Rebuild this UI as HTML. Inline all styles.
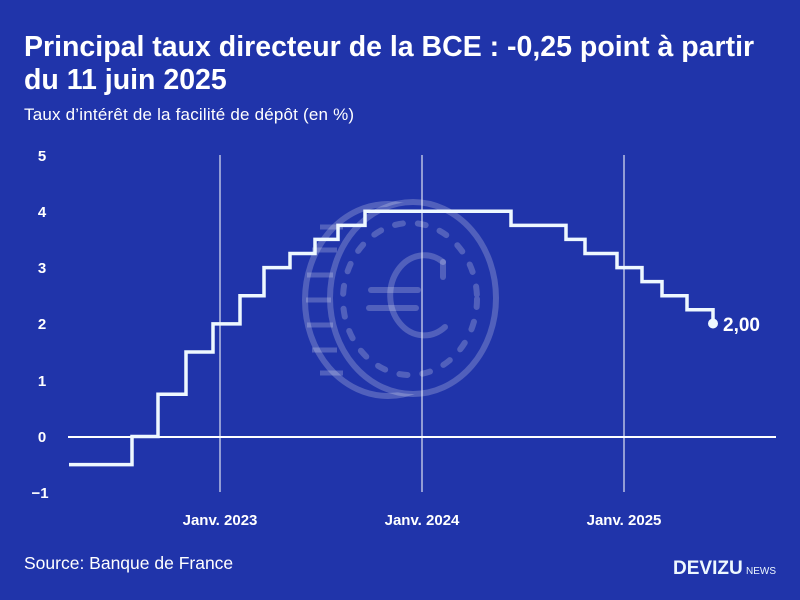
<!DOCTYPE html>
<html><head><meta charset="utf-8"><style>
body{margin:0;width:800px;height:600px;background:#2034aa;overflow:hidden;font-family:"Liberation Sans",sans-serif;color:#fff}
</style></head><body>
<svg width="800" height="600" xmlns="http://www.w3.org/2000/svg" style="position:absolute;left:0;top:0">
<text x="24" y="56" font-size="28.5" font-weight="bold" fill="#fff">Principal taux directeur de la BCE : -0,25 point à partir</text>
<text x="24" y="89" font-size="28.5" font-weight="bold" fill="#fff">du 11 juin 2025</text>
<text x="24" y="120" font-size="17" fill="#fff" letter-spacing="0.2">Taux d’intérêt de la facilité de dépôt (en %)</text>
<g font-size="15" font-weight="bold" fill="#fff" text-anchor="middle">
<text x="42" y="161">5</text><text x="42" y="217">4</text><text x="42" y="273">3</text><text x="42" y="329">2</text><text x="42" y="386">1</text><text x="42" y="442">0</text><text x="40" y="498">−1</text>
<text x="220" y="525">Janv. 2023</text><text x="422" y="525">Janv. 2024</text><text x="624" y="525">Janv. 2025</text>
</g>
<g fill="none" stroke="#fff" stroke-opacity="0.22" stroke-width="6">
<ellipse cx="388" cy="300" rx="83" ry="96"/>
<ellipse cx="413" cy="298" rx="83" ry="96" fill="#2034aa"/>
<ellipse cx="410" cy="299" rx="67" ry="76" stroke-dasharray="8 15" stroke-linecap="round"/>
<path d="M443 262 A34 40 0 1 0 445 327" stroke-linecap="round"/>
<line x1="443" y1="262" x2="443" y2="277" stroke-linecap="round"/>
<line x1="371" y1="290" x2="418" y2="290" stroke-linecap="round"/><line x1="369" y1="308" x2="416" y2="308" stroke-linecap="round"/>
</g>
<g stroke="#fff" stroke-opacity="0.22" stroke-width="5">
<line x1="306" y1="300" x2="331" y2="300"/><line x1="307" y1="275" x2="333" y2="275"/><line x1="307" y1="325" x2="333" y2="325"/>
<line x1="312" y1="250" x2="337" y2="250"/><line x1="312" y1="350" x2="337" y2="350"/><line x1="320" y1="227" x2="343" y2="227"/><line x1="320" y1="373" x2="343" y2="373"/>
</g>
<g stroke="#fff" stroke-opacity="0.85" stroke-width="1.2">
<line x1="220" y1="155" x2="220" y2="492"/><line x1="422" y1="155" x2="422" y2="492"/><line x1="624" y1="155" x2="624" y2="492"/>
</g>
<line x1="68" y1="437" x2="776" y2="437" stroke="#fff" stroke-width="2"/>
<polyline fill="none" stroke="#eef8ff" stroke-width="3.5" points="69,464.6 132,464.6 132,436.5 158,436.5 158,394.3 186,394.3 186,352 213,352 213,323.9 240,323.9 240,295.7 264,295.7 264,267.6 290,267.6 290,253.5 315,253.5 315,239.4 338,239.4 338,225.4 365,225.4 365,211.3 511,211.3 511,225.4 566,225.4 566,239.4 585,239.4 585,253.5 617,253.5 617,267.6 642,267.6 642,281.6 662,281.6 662,295.7 687,295.7 687,309.8 713,309.8 713,323.9"/>
<circle cx="713" cy="323.5" r="5" fill="#eef8ff"/>
<text x="723" y="331" font-size="19" font-weight="bold" fill="#fff">2,00</text>
<text x="24" y="569" font-size="17.5" fill="#fff">Source: Banque de France</text>
<text x="673" y="574" font-size="19" font-weight="bold" fill="#eef8ff">DEVIZU</text>
<text x="746" y="574" font-size="10" fill="#eef8ff">NEWS</text>
</svg>
</body></html>
